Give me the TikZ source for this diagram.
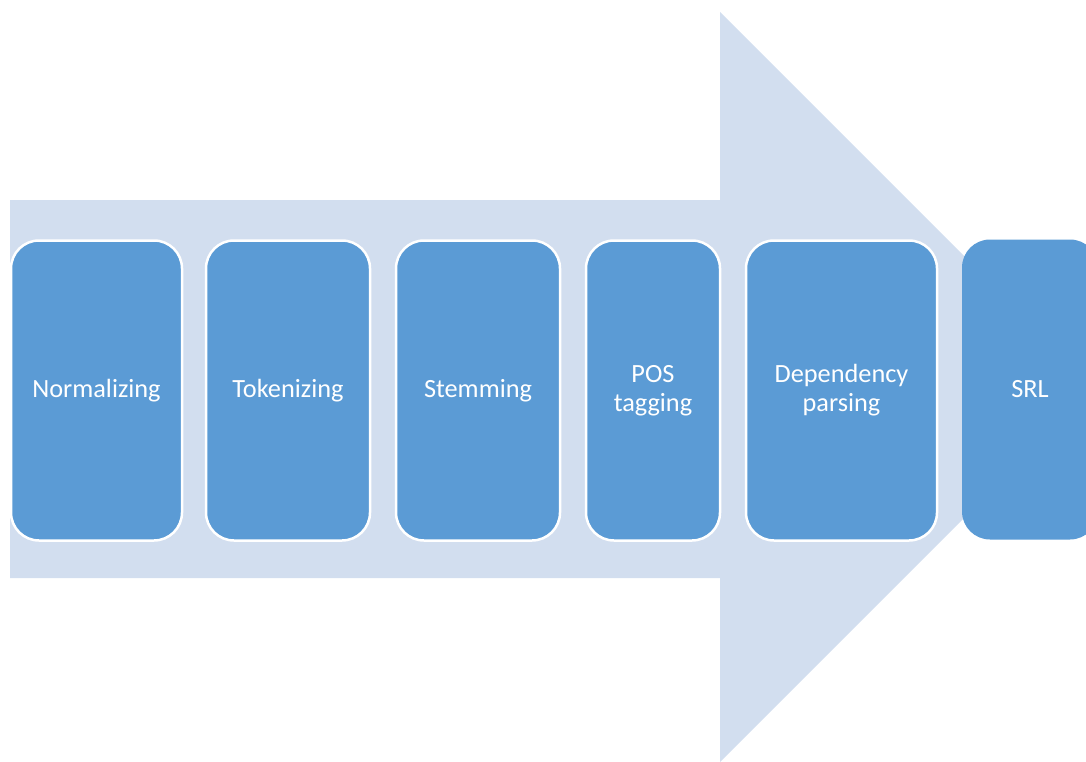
\documentclass[tikz,border=0pt]{standalone}
\usepackage{fontspec}
\setmainfont{Carlito}
\definecolor{pfeil}{HTML}{D2DEEF}
\definecolor{kasten}{HTML}{5B9BD5}
\begin{document}
\begin{tikzpicture}[x=1pt,y=-1pt,
  schritt/.style={draw=white, line width=2.5pt, fill=kasten, rounded corners=28pt,
    text=white, align=center, font=\fontsize{26.3}{29}\selectfont,
    minimum height=300pt, inner sep=0pt}]
  \useasboundingbox (0,0) rectangle (1086,762);
  \clip (0,0) rectangle (1086,762);
  % Pfeil im Hintergrund
  \fill[pfeil] (10,200) -- (720,200) -- (720,12) -- (1095,387) -- (720,762)
    -- (720,578) -- (10,578) -- cycle;
  % Verarbeitungsschritte
  \foreach \name/\links/\rechts/\txt in {norm/11/182/{Normalizing},
      token/206/370/{Tokenizing}, stem/396/560/{Stemming},
      pos/586/720/{POS\\tagging}, dep/746/937/{Dependency\\parsing}} {
    \node[schritt, minimum width={\rechts-\links}] (\name)
      at ({(\links+\rechts)/2},390.5) {\txt};
  }
  % letzter Schritt ohne Rand
  \node[schritt, draw=none, minimum width=136pt] (srl) at (1030,389.5) {SRL};
\end{tikzpicture}
\end{document}
